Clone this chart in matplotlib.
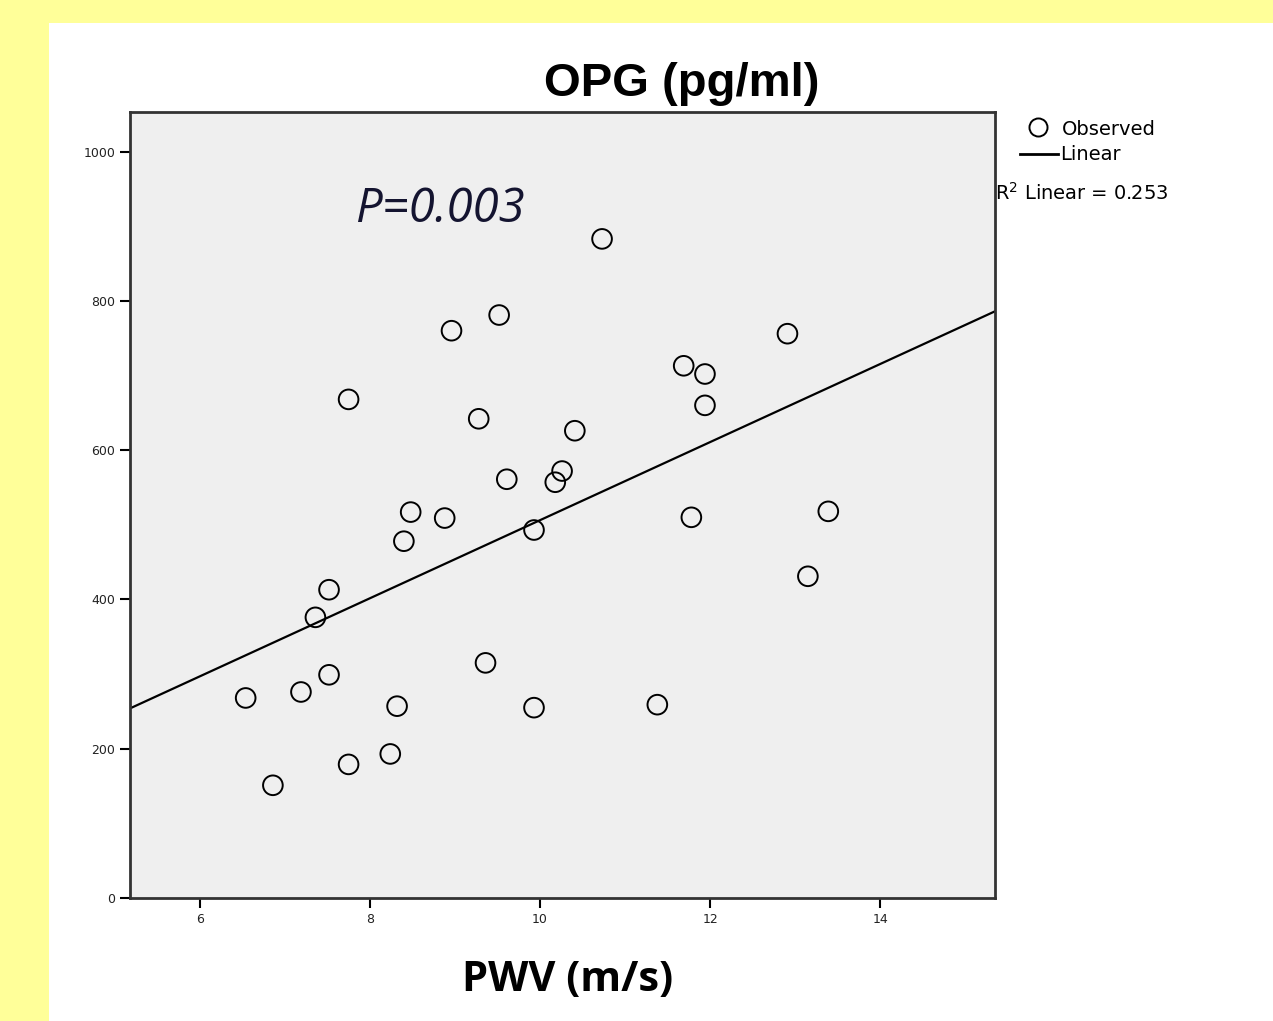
import numpy as np
import matplotlib
matplotlib.use("Agg")
import matplotlib.pyplot as plt
from matplotlib.lines import Line2D
from matplotlib.patches import Rectangle

# Data
pwv = [6.54, 6.86, 7.19, 7.36, 7.52, 7.52, 7.75, 7.75, 8.24, 8.32, 8.40, 8.48,
       8.88, 8.96, 9.28, 9.36, 9.52, 9.61, 9.93, 9.93, 10.18, 10.26, 10.41,
       10.73, 11.38, 11.69, 11.78, 11.94, 11.94, 12.91, 13.15, 13.39]
opg = [268, 151, 276, 376, 413, 299, 668, 179, 193, 257, 478, 517,
       509, 760, 642, 315, 781, 561, 493, 255, 557, 572, 626,
       883, 259, 713, 510, 702, 660, 756, 431, 518]
fit_x = [5.18, 15.35]
fit_y = [254, 786]
xticks = [6, 8, 10, 12, 14]
yticks = [0, 200, 400, 600, 800, 1000]

W, H = 1273, 1021
fig = plt.figure(figsize=(W / 100, H / 100), dpi=100)
fig.patch.set_facecolor("#FFFF99")
fig.patches.append(Rectangle((49 / W, 0), 1 - 49 / W, 1 - 23 / H,
                             transform=fig.transFigure, facecolor="white",
                             edgecolor="none", zorder=-5))

ax = fig.add_axes([130 / W, 1 - 898 / H, (995 - 130) / W, (898 - 112) / H])
ax.set_zorder(2)
ax.set_facecolor("#EFEFEF")
ax.set_xlim(5.18, 15.35)
ax.set_ylim(0, 1053)

ax.plot(fit_x, fit_y, color="black", lw=1.6, zorder=2)
ax.scatter(pwv, opg, s=200, facecolors="none", edgecolors="black",
           linewidths=1.4, zorder=3)

ax.set_xticks(xticks)
ax.set_yticks(yticks)
ax.set_xticklabels([str(v) for v in xticks], fontsize=9, color="#222222")
ax.set_yticklabels([str(v) for v in yticks], fontsize=9, color="#222222")
ax.tick_params(axis="both", length=7, width=1.5, color="black")
for s in ax.spines.values():
    s.set_linewidth(2)
    s.set_color("#333333")

ax.text(0.260, 0.876, "P=0.003", transform=ax.transAxes, fontsize=34,
        style="italic", color="#141430", family="Open Sans", va="center")

fig.text(682 / W, 1 - 84 / H, "OPG (pg/ml)", fontsize=34, fontweight="bold",
         ha="center", va="center", family="Liberation Sans")
fig.text(568 / W, 1 - 980 / H, "PWV (m/s)", fontsize=30, fontweight="bold",
         ha="center", va="center", family="Open Sans")

# legend
fig.lines.append(Line2D([1038 / W], [1 - 127 / H], marker="o", markersize=13,
                        markerfacecolor="none", markeredgecolor="black",
                        markeredgewidth=1.4, transform=fig.transFigure))
fig.text(1062 / W, 1 - 129 / H, "Observed", fontsize=14, va="center")
fig.lines.append(Line2D([1020 / W, 1058 / W], [1 - 154 / H, 1 - 154 / H],
                        color="black", lw=2, transform=fig.transFigure))
fig.text(1060 / W, 1 - 155 / H, "Linear", fontsize=14, va="center")
fig.text(995 / W, 1 - 193 / H, r"R$^2$ Linear = 0.253", fontsize=14,
         va="center")

fig.savefig("out.png", dpi=100, facecolor=fig.get_facecolor())
